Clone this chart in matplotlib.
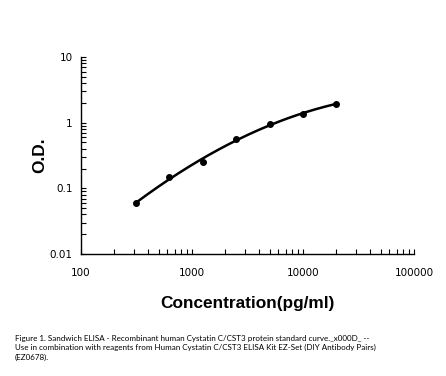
import numpy as np
import matplotlib
matplotlib.use("Agg")
import matplotlib.pyplot as plt
from matplotlib import font_manager
from matplotlib.ticker import LogLocator, NullFormatter, FixedLocator, FixedFormatter

# standard curve readings
conc = [312.5, 625, 1250, 2500, 5000, 10000, 20000]
od = [0.059, 0.150, 0.255, 0.557, 0.944, 1.355, 1.95]

x_ticks = [100, 1000, 10000, 100000]
x_labels = ["100", "1000", "10000", "100000"]
y_ticks = [0.01, 0.1, 1, 10]
y_labels = ["0.01", "0.1", "1", "10"]

caption = ("Figure 1. Sandwich ELISA - Recombinant human Cystatin C/CST3 protein standard curve._x000D_ --\n"
           "Use in combination with reagents from Human Cystatin C/CST3 ELISA Kit EZ-Set (DIY Antibody Pairs)\n"
           "(EZ0678).")


def main():
    bold_path = font_manager.findfont(
        font_manager.FontProperties(family="Liberation Sans", weight="bold"))
    label_prop = font_manager.FontProperties(fname=bold_path, size=12.4)

    fig = plt.figure(figsize=(4.46, 3.76), dpi=100)
    ax = fig.add_axes([81 / 446, 1 - 254 / 376, 333 / 446, 197 / 376])

    # smooth fit in log-log space
    lx = np.log10(conc)
    ly = np.log10(od)
    coef = np.polyfit(lx, ly, 3)
    xs = np.linspace(lx[0], lx[-1], 200)
    ax.plot(10 ** xs, 10 ** np.polyval(coef, xs), color="black", lw=1.8)
    ax.plot(conc, od, "o", color="black", ms=4)

    ax.set_xscale("log")
    ax.set_yscale("log")
    ax.set_xlim(100, 100000)
    ax.set_ylim(0.01, 10)

    ax.xaxis.set_major_locator(FixedLocator(x_ticks))
    ax.xaxis.set_major_formatter(FixedFormatter(x_labels))
    ax.yaxis.set_major_locator(FixedLocator(y_ticks))
    ax.yaxis.set_major_formatter(FixedFormatter(y_labels))
    ax.xaxis.set_minor_locator(LogLocator(base=10, subs=np.arange(2, 10)))
    ax.yaxis.set_minor_locator(LogLocator(base=10, subs=np.arange(2, 10)))
    ax.xaxis.set_minor_formatter(NullFormatter())
    ax.yaxis.set_minor_formatter(NullFormatter())

    for s in ["top", "right"]:
        ax.spines[s].set_visible(False)
    for s in ["left", "bottom"]:
        ax.spines[s].set_linewidth(1.0)

    ax.tick_params(which="both", direction="in", length=3.5, width=0.8, colors="black")
    ax.tick_params(axis="x", which="major", pad=10, labelsize=7.5)
    ax.tick_params(axis="y", which="major", pad=6, labelsize=7.5)

    ax.set_xlabel("Concentration(pg/ml)", fontproperties=label_prop, labelpad=13)
    ax.set_ylabel("O.D.", fontproperties=label_prop, labelpad=2)

    fig.text(15 / 446, 1 - 335 / 376, caption, fontsize=5.75, family="Lato",
             va="top", ha="left", linespacing=1.35)

    fig.savefig("out.png", dpi=100)
    plt.close(fig)


if __name__ == "__main__":
    main()
